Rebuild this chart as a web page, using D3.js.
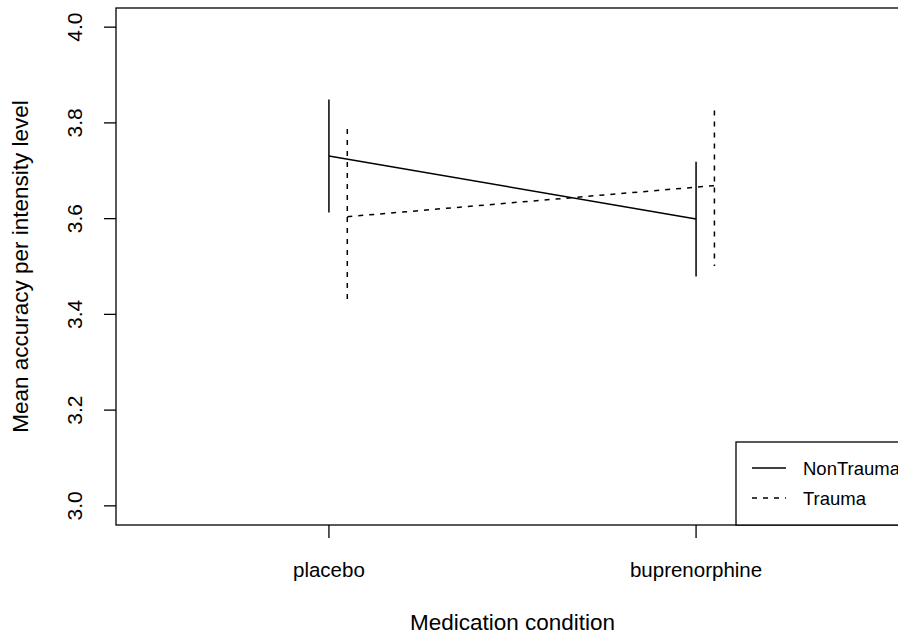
<!DOCTYPE html>
<html>
<head>
<meta charset="utf-8">
<script src="https://cdn.jsdelivr.net/npm/d3@7"></script>
<style>
  body { margin: 0; background: #fff; }
  text { font-family: "Liberation Sans", Arial, sans-serif; fill: #000; }
</style>
</head>
<body>
<svg width="898" height="635"></svg>
<script>
var svg = d3.select("svg");

// data
let conditions = ["placebo", "buprenorphine"];
let groups = ["NonTrauma", "Trauma"];
let means = [[3.731, 3.599], [3.604, 3.669]];
let upper = [[3.849, 3.719], [3.787, 3.826]];
let lower = [[3.613, 3.479], [3.422, 3.501]];
let yTicks = [3.0, 3.2, 3.4, 3.6, 3.8, 4.0];
let offsets = [0, 0.05];
let dashes = [null, "5,6"];

let x = d3.scaleLinear().domain([0.42, 2.58]).range([116, 909]);
let y = d3.scaleLinear().domain([2.96, 4.04]).range([525, 8]);

// plot box
svg.append("rect")
  .attr("x", x(0.42)).attr("y", y(4.04))
  .attr("width", x(2.58) - x(0.42)).attr("height", y(2.96) - y(4.04))
  .attr("fill", "none").attr("stroke", "#000").attr("stroke-width", 1.3);

// y axis
let yAxis = svg.append("g");
yTicks.forEach(function (t) {
  yAxis.append("line")
    .attr("x1", 116).attr("x2", 104)
    .attr("y1", y(t)).attr("y2", y(t))
    .attr("stroke", "#000").attr("stroke-width", 1.3);
  yAxis.append("text")
    .attr("transform", "translate(82," + y(t) + ") rotate(-90)")
    .attr("text-anchor", "middle")
    .attr("font-size", 21)
    .text(t.toFixed(1));
});

// x axis
conditions.forEach(function (c, i) {
  svg.append("line")
    .attr("x1", x(i + 1)).attr("x2", x(i + 1))
    .attr("y1", 525).attr("y2", 538)
    .attr("stroke", "#000").attr("stroke-width", 1.3);
  svg.append("text")
    .attr("x", x(i + 1)).attr("y", 577)
    .attr("text-anchor", "middle")
    .attr("font-size", 20.5)
    .text(c);
});

svg.append("text")
  .attr("x", x(1.5)).attr("y", 630)
  .attr("text-anchor", "middle")
  .attr("font-size", 22.5)
  .text("Medication condition");

svg.append("text")
  .attr("transform", "translate(28," + y(3.5) + ") rotate(-90)")
  .attr("text-anchor", "middle")
  .attr("font-size", 22.5)
  .text("Mean accuracy per intensity level");

// series
groups.forEach(function (g, gi) {
  let pts = conditions.map(function (c, i) {
    return { x: i + 1 + offsets[gi], m: means[gi][i], hi: upper[gi][i], lo: lower[gi][i] };
  });
  let line = d3.line().x(function (d) { return x(d.x); }).y(function (d) { return y(d.m); });
  svg.append("path")
    .attr("d", line(pts))
    .attr("fill", "none").attr("stroke", "#000").attr("stroke-width", 1.5)
    .attr("stroke-dasharray", dashes[gi]);
  svg.selectAll(null).data(pts).enter().append("line")
    .attr("x1", function (d) { return x(d.x); })
    .attr("x2", function (d) { return x(d.x); })
    .attr("y1", function (d) { return y(d.hi); })
    .attr("y2", function (d) { return y(d.lo); })
    .attr("stroke", "#000").attr("stroke-width", 1.5)
    .attr("stroke-dasharray", dashes[gi]);
});

// legend
let lg = svg.append("g");
lg.append("rect")
  .attr("x", 736).attr("y", 442).attr("width", 200).attr("height", 83)
  .attr("fill", "#fff").attr("stroke", "#000").attr("stroke-width", 1.3);
groups.forEach(function (g, gi) {
  let ly = 468 + gi * 30;
  lg.append("line")
    .attr("x1", 752).attr("x2", 786).attr("y1", ly).attr("y2", ly)
    .attr("stroke", "#000").attr("stroke-width", 1.5)
    .attr("stroke-dasharray", dashes[gi]);
  lg.append("text")
    .attr("x", 803).attr("y", ly + 6.5)
    .attr("font-size", 18.5)
    .text(g);
});
</script>
</body>
</html>
